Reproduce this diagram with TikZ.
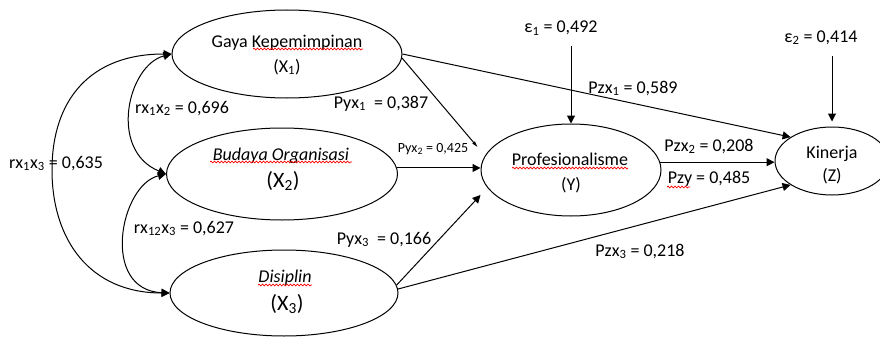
\documentclass[tikz,border=0pt]{standalone}
\usepackage{fontspec}
\setmainfont{Carlito}
\usetikzlibrary{shapes.geometric,arrows.meta,calc,decorations.pathmorphing}
\tikzset{
  ell/.style={draw, ellipse, line width=1pt, inner sep=0pt},
  arr/.style={line width=1pt, -{Triangle[length=8pt,width=8pt]}},
  darr/.style={line width=1pt, {Triangle[length=8pt,width=8pt]}-{Triangle[length=8pt,width=8pt]}},
  txt/.style={anchor=base, inner sep=0pt, font=\fontsize{18}{22}\selectfont},
  itxt/.style={txt, font=\fontsize{18}{22}\selectfont\itshape},
  bigtxt/.style={txt, font=\fontsize{22}{26}\selectfont},
  smalltxt/.style={txt, font=\fontsize{14}{16}\selectfont},
  squig/.style={draw=red, line width=0.7pt, decorate, decoration={snake, amplitude=0.9pt, segment length=3.5pt}}
}
\begin{document}
\begin{tikzpicture}[x=1pt,y=-1pt]
\useasboundingbox (0,0) rectangle (880,337);
\fill[white] (0,0) rectangle (880,337);

% ellipses
\node[ell, minimum width=230pt, minimum height=88pt] (X1) at (287,54) {};
\node[ell, minimum width=231pt, minimum height=92pt] (X2) at (282,174) {};
\node[ell, minimum width=228pt, minimum height=86pt] (X3) at (284,293) {};
\node[ell, minimum width=180pt, minimum height=92pt] (Y) at (571,170) {};
\node[ell, minimum width=114pt, minimum height=68pt] (Z) at (832,161) {};

% texts inside
\node[txt] (t1a) at (287,48) {Gaya Kepemimpinan};
\node[txt] (t1b) at (287,72) {(X\textsubscript{1})};
\node[itxt] (t2a) at (281,160) {Budaya Organisasi};
\node[bigtxt] (t2b) at (283,187) {(X\textsubscript{2})};
\node[itxt] (t3a) at (285,282) {Disiplin};
\node[bigtxt] (t3b) at (287,310) {(X\textsubscript{3})};
\node[txt] (tya) at (570,165) {Profesionalisme};
\node[txt] (tyb) at (571,190) {(Y)};
\node[txt] (tza) at (832,158) {Kinerja};
\node[txt] (tzb) at (832,181) {(Z)};

% squiggles
\draw[squig] (253,49) -- (363,49);
\draw[squig] (210,162) -- (352,162);
\draw[squig] (258,285) -- (312,285);
\draw[squig] (512,168) -- (628,168);
\draw[squig] (667,187) -- (690,187);

% error terms
\node[txt] (e1) at (561,33) {ε\textsubscript{1} = 0,492};
\node[txt] (e2) at (821,42) {ε\textsubscript{2} = 0,414};
\draw[arr] ($(e1.south -| Y.north)+(0,10)$) -- (Y.north);
\draw[arr, shorten >=5pt] ($(e2.south -| Z.north)+(0,11)$) -- (Z.north);

% path labels
\node[txt] (l1) at (633,93) {Pzx\textsubscript{1} = 0,589};
\node[txt] (l2) at (381,108) {Pyx\textsubscript{1}~ = 0,387};
\node[txt] (l3) at (182,113) {rx\textsubscript{1}x\textsubscript{2} = 0,696};
\node[txt] (l4) at (56,168) {rx\textsubscript{1}x\textsubscript{3} = 0,635};
\node[smalltxt] (l5) at (433,152) {Pyx\textsubscript{2} = 0,425};
\node[txt] (l6) at (184,233) {rx\textsubscript{12}x\textsubscript{3} = 0,627};
\node[txt] (l7) at (384,244) {Pyx\textsubscript{3}~ = 0,166};
\node[txt] (l8) at (709,151) {Pzx\textsubscript{2} = 0,208};
\node[txt] (l9) at (709,183) {Pzy = 0,485};
\node[txt] (l10) at (640,256) {Pzx\textsubscript{3} = 0,218};

% paths
\draw[arr] (X1.east) -- (Z.150);
\draw[line width=1pt, -{Triangle[length=6pt,width=3pt]}] (X1.-2) -- ($(Y.west)+(-3,-23)$);
\draw[arr] (X2.3) -- (Y.west |- X2.3);
\draw[arr] (X3.4) -- ($(Y.west)+(0,25)$);
\draw[arr] (X3.2) -- (Z.210);
\draw[arr] (Y.5) -- (Z.west |- Y.5);

% correlations
\draw[darr] (X1.west) .. controls (90,54) and (52,100) .. (52,170) .. controls (52,240) and (90,293) .. (X3.west);
\draw[darr] (X1.west) .. controls (128,65) and (108,150) .. (X2.west);
\draw[darr] (X2.west) .. controls (120,185) and (100,290) .. (X3.west);
\end{tikzpicture}
\end{document}
